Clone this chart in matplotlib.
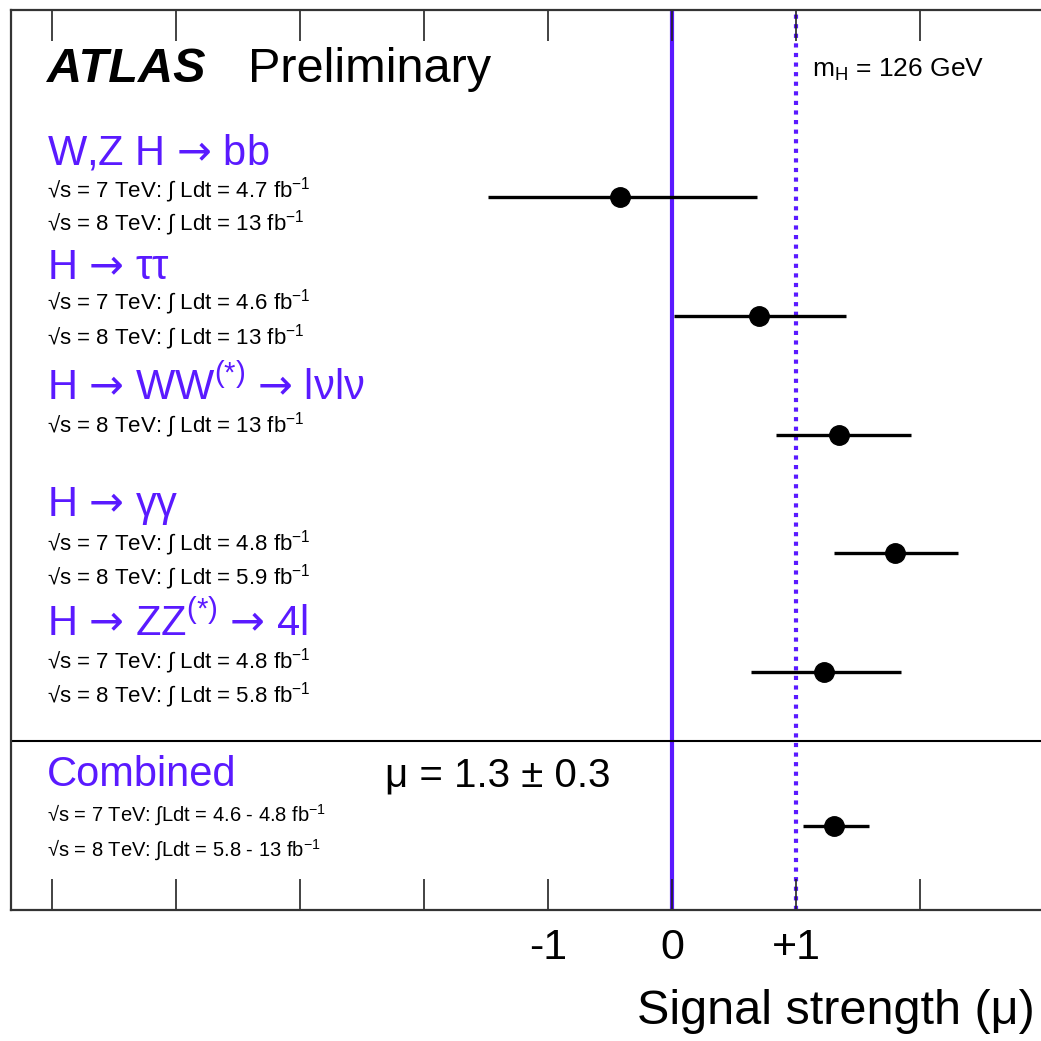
import matplotlib
matplotlib.use("Agg")
import matplotlib.pyplot as plt

plt.rcParams['font.family'] = ['Liberation Sans', 'DejaVu Sans']
plt.rcParams['mathtext.fontset'] = 'custom'
plt.rcParams['mathtext.rm'] = 'Liberation Sans'
plt.rcParams['mathtext.it'] = 'Liberation Sans:italic'
plt.rcParams['mathtext.bf'] = 'Liberation Sans:bold'
plt.rcParams['mathtext.sf'] = 'DejaVu Sans'

# data
arrow = r'$\mathsf{→}$'
channels = ['W,Z H ' + arrow + ' bb',
            'H ' + arrow + ' ττ',
            'H ' + arrow + ' WW$^{(*)}$ ' + arrow + ' lνlν',
            'H ' + arrow + ' γγ',
            'H ' + arrow + ' ZZ$^{(*)}$ ' + arrow + ' 4l',
            'Combined']
lumi_lines = [['√s = 7 TeV: ∫ Ldt = 4.7 fb$^{-1}$',
               '√s = 8 TeV: ∫ Ldt = 13 fb$^{-1}$'],
              ['√s = 7 TeV: ∫ Ldt = 4.6 fb$^{-1}$',
               '√s = 8 TeV: ∫ Ldt = 13 fb$^{-1}$'],
              ['√s = 8 TeV: ∫ Ldt = 13 fb$^{-1}$'],
              ['√s = 7 TeV: ∫ Ldt = 4.8 fb$^{-1}$',
               '√s = 8 TeV: ∫ Ldt = 5.9 fb$^{-1}$'],
              ['√s = 7 TeV: ∫ Ldt = 4.8 fb$^{-1}$',
               '√s = 8 TeV: ∫ Ldt = 5.8 fb$^{-1}$'],
              ['√s = 7 TeV: ∫Ldt = 4.6 - 4.8 fb$^{-1}$',
               '√s = 8 TeV: ∫Ldt = 5.8 - 13 fb$^{-1}$']]
mu = [-0.42, 0.70, 1.35, 1.80, 1.23, 1.31]
mu_lo = [-1.48, 0.02, 0.84, 1.31, 0.64, 1.06]
mu_hi = [0.69, 1.40, 1.93, 2.31, 1.85, 1.59]
row_pos = [0, 1, 2, 3, 4, 5.3]

tick_vals = [-5, -4, -3, -2, -1, 0, 1, 2]
tick_labels = ['', '', '', '', '-1', '0', '+1', '']

blue = '#5a1aff'
W = H = 1041

fig = plt.figure(figsize=(W / 100, H / 100), dpi=100)


def fx(x):
    return x / W


def fy(y):
    return 1 - y / H


x0, x1 = -5.33, 3.2
ax = fig.add_axes([fx(11), fy(910), (x1 - x0) * 124 / W, 900 / H])
ax.set_xlim(x0, x1)
ax.set_ylim(6.004, -1.575)

err_left = [m - lo for m, lo in zip(mu, mu_lo)]
err_right = [hi - m for m, hi in zip(mu, mu_hi)]
ax.axvline(0, color=blue, lw=3, zorder=1)
ax.axvline(1, color=blue, lw=3, ls=(0, (1, 1.3)), zorder=1)
ax.errorbar(mu, row_pos, xerr=[err_left, err_right], fmt='o', color='black',
            ms=14, elinewidth=2.4, capsize=0, zorder=3)
ax.axhline(4.58, color='black', lw=1.5)

ax.set_xticks(tick_vals)
ax.set_xticklabels(tick_labels)
ax.set_yticks([])
ax.tick_params(axis='x', direction='in', length=22, width=1.2, top=True,
               labelsize=31, pad=13, color='#222222')
for s in ax.spines.values():
    s.set_linewidth(1.6)
    s.set_color('#333333')

# header texts
fig.text(fx(47), fy(70), 'ATLAS', fontsize=35, fontweight='bold',
         fontstyle='italic', va='center')
fig.text(fx(248), fy(70), 'Preliminary', fontsize=35, va='center')
fig.text(fx(812), fy(70), r'm$_{\rm H}$ = 126 GeV', fontsize=19, va='center')

# channel labels
title_y = [154, 268, 387, 506, 623, 775]
sub_y = [[190, 223], [302, 337], [425], [543, 577], [661, 695], [815, 850]]
for i, name in enumerate(channels):
    fig.text(fx(47), fy(title_y[i]), name, fontsize=30, color=blue,
             va='center')
    fs = 14.5 if i == 5 else 16
    for txt, yy in zip(lumi_lines[i], sub_y[i]):
        fig.text(fx(47), fy(yy), txt, fontsize=fs, va='center')

fig.text(fx(385), fy(775), 'μ = 1.3 ± 0.3', fontsize=29, va='center')
fig.text(fx(1035), fy(1012), 'Signal strength (μ)', fontsize=35,
         va='center', ha='right')

fig.savefig('out.png', dpi=100)
